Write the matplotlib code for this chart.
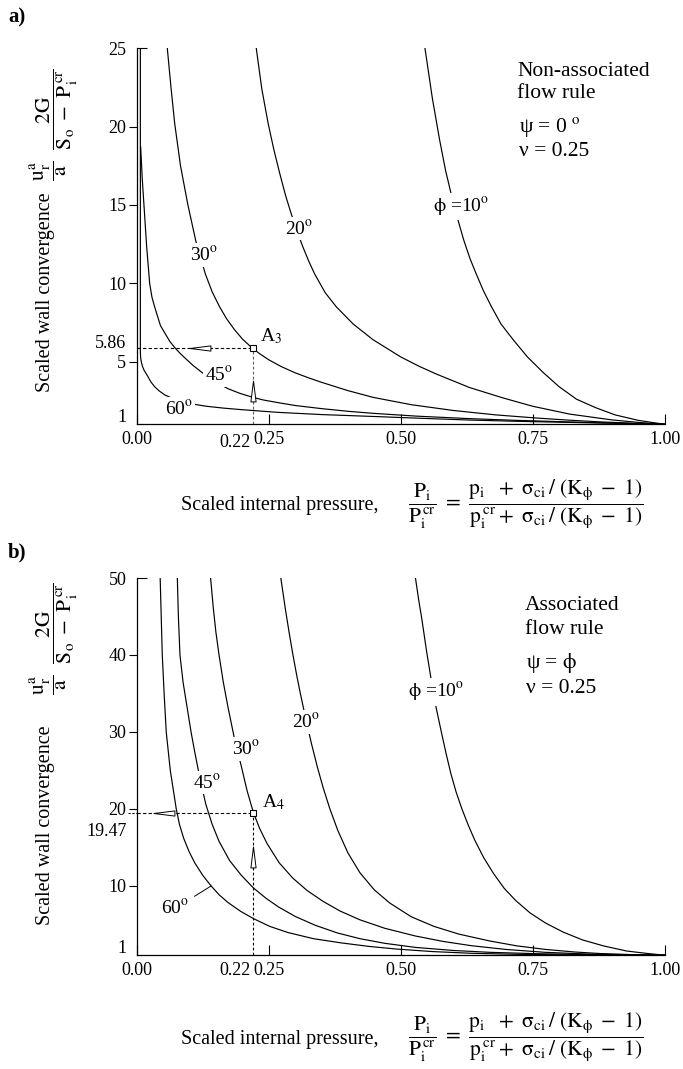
import numpy as np
import matplotlib.pyplot as plt
from matplotlib.path import Path

plt.rcParams['font.family'] = ['Liberation Serif', 'DejaVu Serif']
plt.rcParams['mathtext.fontset'] = 'stix'

# ---------------- panel a) non-associated flow rule (psi = 0), nu = 0.25
a_phi10_x = [0.546, 0.560, 0.574, 0.585, 0.597, 0.608, 0.619, 0.631, 0.643, 0.657, 0.672, 0.690, 0.713,
             0.740, 0.770, 0.800, 0.833, 0.870, 0.906, 0.950, 1.0]
a_phi10_y = [25.0, 21.8, 19.1, 17.2, 15.5, 14.1, 12.8, 11.6, 10.6, 9.5, 8.5, 7.4, 6.4,
             5.3, 4.3, 3.4, 2.6, 2.05, 1.6, 1.25, 1.0]
a_phi20_x = [0.2265, 0.237, 0.249, 0.260, 0.271, 0.282, 0.293, 0.304, 0.315, 0.326, 0.337, 0.357, 0.378,
             0.410, 0.4475, 0.500, 0.535, 0.568, 0.630, 0.694, 0.750, 0.820, 0.900, 0.950, 1.0]
a_phi20_y = [25.0, 22.4, 20.2, 18.5, 17.0, 15.6, 14.4, 13.3, 12.3, 11.4, 10.6, 9.4, 8.5,
             7.4, 6.4, 5.3, 4.7, 4.2, 3.35, 2.68, 2.15, 1.65, 1.28, 1.12, 1.0]
a_phi30_x = [0.058, 0.065, 0.072, 0.083, 0.097, 0.112, 0.130, 0.143, 0.157, 0.170, 0.185, 0.200, 0.217,
             0.233, 0.250, 0.274, 0.299, 0.325, 0.350, 0.400, 0.4475, 0.520, 0.600, 0.680, 0.757,
             0.820, 0.880, 0.940, 1.0]
a_phi30_y = [25.0, 22.5, 20.2, 17.5, 15.0, 12.7, 10.6, 9.45, 8.5, 7.75, 7.05, 6.45, 5.92,
             5.5, 5.12, 4.68, 4.3, 3.97, 3.68, 3.15, 2.72, 2.25, 1.88, 1.6, 1.4,
             1.26, 1.15, 1.07, 1.0]
a_phi45_x = [0.0076, 0.0105, 0.0138, 0.019, 0.0246, 0.029, 0.034, 0.045, 0.0625, 0.072, 0.083, 0.094,
             0.107, 0.122, 0.140, 0.156, 0.173, 0.195, 0.217, 0.240, 0.268, 0.300, 0.350, 0.400,
             0.4475, 0.530, 0.631, 0.720, 0.820, 0.910, 1.0]
a_phi45_y = [18.7, 16.7, 15.0, 12.3, 10.0, 9.1, 8.5, 7.3, 6.3, 5.9, 5.5, 5.15,
             4.75, 4.35, 3.92, 3.58, 3.27, 2.98, 2.75, 2.55, 2.38, 2.2, 2.0, 1.83,
             1.70, 1.52, 1.36, 1.25, 1.15, 1.07, 1.0]
a_phi60_x = [0.007, 0.007, 0.0075, 0.009, 0.011, 0.014, 0.0214, 0.027, 0.034, 0.043, 0.053, 0.070,
             0.090, 0.110, 0.132, 0.165, 0.200, 0.268, 0.350, 0.4475, 0.540, 0.631, 0.720, 0.820,
             0.910, 1.0]
a_phi60_y = [25.0, 5.6, 5.25, 4.95, 4.7, 4.45, 4.04, 3.7, 3.4, 3.12, 2.88, 2.62,
             2.42, 2.27, 2.15, 2.03, 1.93, 1.76, 1.62, 1.5, 1.38, 1.27, 1.19, 1.12,
             1.06, 1.0]
a_point = (0.22, 5.86)

# ---------------- panel b) associated flow rule (psi = phi), nu = 0.25
b_phi10_x = [0.528, 0.534, 0.540, 0.549, 0.558, 0.567, 0.577, 0.586, 0.595, 0.605, 0.616, 0.628, 0.640,
             0.657, 0.676, 0.696, 0.718, 0.745, 0.774, 0.808, 0.844, 0.885, 0.928, 0.965, 1.0]
b_phi10_y = [50.0, 47.2, 44.7, 40.5, 36.7, 33.2, 30.0, 27.2, 24.6, 22.2, 20.0, 17.9, 16.0,
             13.7, 11.6, 9.7, 8.1, 6.5, 5.2, 4.0, 3.0, 2.2, 1.55, 1.25, 1.0]
b_phi20_x = [0.273, 0.282, 0.289, 0.296, 0.303, 0.310, 0.320, 0.331, 0.342, 0.353, 0.366, 0.381, 0.400,
             0.423, 0.450, 0.479, 0.520, 0.563, 0.610, 0.669, 0.720, 0.774, 0.830, 0.879, 0.940, 1.0]
b_phi20_y = [50.0, 45.8, 42.8, 40.0, 37.4, 35.0, 31.8, 28.5, 25.5, 22.8, 20.0, 17.2, 14.3,
             11.7, 9.5, 7.8, 6.0, 4.75, 3.75, 2.85, 2.22, 1.76, 1.42, 1.22, 1.08, 1.0]
b_phi30_x = [0.140, 0.145, 0.150, 0.156, 0.164, 0.173, 0.185, 0.198, 0.209, 0.221, 0.233, 0.247, 0.270,
             0.296, 0.323, 0.353, 0.385, 0.423, 0.470, 0.528, 0.580, 0.633, 0.700, 0.774, 0.850, 0.920, 1.0]
b_phi30_y = [50.0, 46.2, 43.0, 40.0, 36.5, 33.2, 29.2, 25.6, 22.4, 19.55, 17.45, 15.5, 13.0,
             11.0, 9.4, 8.0, 6.75, 5.6, 4.5, 3.5, 2.8, 2.25, 1.75, 1.38, 1.17, 1.06, 1.0]
b_phi45_x = [0.077, 0.079, 0.082, 0.088, 0.096, 0.103, 0.110, 0.120, 0.131, 0.143, 0.156, 0.176, 0.198,
             0.221, 0.245, 0.268, 0.300, 0.338, 0.380, 0.423, 0.470, 0.528, 0.600, 0.669, 0.760, 0.860, 1.0]
b_phi45_y = [50.0, 45.0, 40.0, 36.4, 33.0, 30.0, 27.4, 23.9, 20.6, 18.0, 15.8, 13.3, 11.4,
             9.75, 8.4, 7.3, 6.05, 4.9, 3.9, 3.15, 2.55, 2.02, 1.62, 1.38, 1.2, 1.08, 1.0]
b_phi60_x = [0.0445, 0.0465, 0.0485, 0.052, 0.056, 0.0637, 0.075, 0.081, 0.089, 0.099, 0.110, 0.125,
             0.141, 0.157, 0.173, 0.197, 0.2215, 0.252, 0.2866, 0.335, 0.388, 0.440, 0.493, 0.560,
             0.633, 0.720, 0.820, 1.0]
b_phi60_y = [50.0, 45.0, 40.0, 35.0, 30.0, 25.0, 20.0, 18.0, 16.2, 14.5, 13.0, 11.4,
             10.0, 8.8, 7.85, 6.7, 5.75, 4.75, 3.95, 3.15, 2.6, 2.15, 1.8, 1.48,
             1.26, 1.12, 1.05, 1.0]
b_point = (0.22, 19.47)

x_ticks = [0.0, 0.25, 0.5, 0.75, 1.0]
x_ticklabels = ['0.00', '0.25', '0.50', '0.75', '1.00']
a_yticks = [5, 10, 15, 20]
b_yticks = [10, 20, 30, 40]

FS_TICK = 13
FS_LAB = 14.5
FS_MATH = 15.5
FS_CURVE = 14
FS_NOTE = 15.5
LW = 0.85


def deg(s):
    return s + r'$^{\mathrm{o}}$'


PHI = r'$\mathrm{\phi}$'


def arrow_marker(direction):
    if direction == 'left':
        verts = [(-1, 0), (1, 0.25), (1, -0.25), (-1, 0)]
    else:
        verts = [(0, 1), (0.25, -1), (-0.25, -1), (0, 1)]
    return Path(verts, [Path.MOVETO, Path.LINETO, Path.LINETO, Path.CLOSEPOLY])


def setup_axes(ax, ylim, yticks):
    ax.set_xlim(0, 1)
    ax.set_ylim(*ylim)
    for s in ['top', 'right']:
        ax.spines[s].set_visible(False)
    for s in ['left', 'bottom']:
        ax.spines[s].set_linewidth(0.9)
    ax.set_xticks(x_ticks, labels=x_ticklabels)
    ax.tick_params(axis='x', direction='in', length=7.5, width=0.8, pad=5, labelsize=FS_TICK)
    ax.set_yticks(yticks, labels=[str(v) for v in yticks])
    # top tick points inwards; the bottom "1" label sits a little above the axis line
    ax.set_yticks([ylim[1]], labels=[str(ylim[1])], minor=True)
    ax.tick_params(axis='y', which='major', direction='out', length=6, width=0.8, pad=1.5,
                   labelsize=FS_TICK)
    ax.tick_params(axis='y', which='minor', direction='in', length=7, width=0.8, pad=7.5,
                   labelsize=FS_TICK)
    ax.annotate(str(ylim[0]), xy=(0, ylim[0]), xytext=(-7.3, 5), textcoords='offset points',
                ha='right', va='center', fontsize=FS_TICK)


def curve_label(ax, x, y, s, **kw):
    ax.text(x, y, s, ha='center', va='center', fontsize=FS_CURVE,
            bbox=dict(facecolor='white', edgecolor='none', pad=1.5), zorder=4, **kw)


def reading(ax, pt, name, left_arrow_x, up_arrow_y, vcolor, lab_x, lab_y):
    px, py = pt
    ax.plot([0, px], [py, py], color='black', lw=0.8, ls=(0, (3, 2)), zorder=3)
    ax.plot([px, px], [ax.get_ylim()[0], py], color=vcolor, lw=0.8, ls=(0, (2.5, 2)), zorder=3)
    ax.plot([px], [py], marker='s', ms=5, mfc='white', mec='black', mew=0.8, zorder=6)
    ax.plot([left_arrow_x], [py], marker=arrow_marker('left'), ms=15, mfc='white', mec='black',
            mew=0.7, zorder=6)
    ax.plot([px], [up_arrow_y], marker=arrow_marker('up'), ms=15, mfc='white', mec='black',
            mew=0.7, zorder=6)
    ax.text(lab_x, lab_y, name, ha='left', va='bottom', fontsize=FS_CURVE)


fig = plt.figure(figsize=(6.83, 10.69), dpi=100)
ax_a = fig.add_axes([0.2001, 0.6031, 0.7731, 0.3518])
ax_b = fig.add_axes([0.2001, 0.1064, 0.7731, 0.3529])

# ---- panel a
setup_axes(ax_a, (1, 25), a_yticks)
for xs, ys in [(a_phi10_x, a_phi10_y), (a_phi20_x, a_phi20_y), (a_phi30_x, a_phi30_y),
               (a_phi45_x, a_phi45_y), (a_phi60_x, a_phi60_y)]:
    ax_a.plot(xs, ys, color='black', lw=LW, zorder=2)
curve_label(ax_a, 0.615, 14.9, PHI + ' =' + deg('10'))
curve_label(ax_a, 0.307, 13.5, deg('20'))
curve_label(ax_a, 0.128, 11.8, deg('30'))
curve_label(ax_a, 0.157, 4.15, deg('45'))
curve_label(ax_a, 0.080, 1.98, deg('60'))
reading(ax_a, a_point, r'A$_3$', 0.119, 3.1, '0.35', 0.233, 6.0)
ax_a.annotate('5.86', xy=(0, a_point[1]), xytext=(-7.3, 3.5), textcoords='offset points',
              ha='right', va='center', fontsize=FS_TICK)
ax_a.annotate('0.22', xy=(a_point[0], 0), xycoords=('data', 'axes fraction'), xytext=(-1.5, -7),
              textcoords='offset points', ha='right', va='top', fontsize=FS_TICK)
ax_a.text(0.721, 23.5, 'Non-associated', ha='left', va='center', fontsize=FS_NOTE)
ax_a.text(0.721, 22.1, 'flow rule', ha='left', va='center', fontsize=FS_NOTE)
ax_a.text(0.725, 20.0, 'ψ = 0 ' + r'$^{\mathrm{o}}$', ha='left', va='center', fontsize=FS_NOTE)
ax_a.text(0.725, 18.4, 'ν = 0.25', ha='left', va='center', fontsize=FS_NOTE)

# ---- panel b
setup_axes(ax_b, (1, 50), b_yticks)
for xs, ys in [(b_phi10_x, b_phi10_y), (b_phi20_x, b_phi20_y), (b_phi30_x, b_phi30_y),
               (b_phi45_x, b_phi45_y), (b_phi60_x, b_phi60_y)]:
    ax_b.plot(xs, ys, color='black', lw=LW, zorder=2)
curve_label(ax_b, 0.567, 35.2, PHI + ' =' + deg('10'))
curve_label(ax_b, 0.320, 31.3, deg('20'))
curve_label(ax_b, 0.207, 27.8, deg('30'))
curve_label(ax_b, 0.133, 23.4, deg('45'))
ax_b.annotate(deg('60'), xy=(0.141, 10.0), xytext=(0.073, 7.1), ha='center', va='center',
              fontsize=FS_CURVE, arrowprops=dict(arrowstyle='-', lw=0.7, shrinkA=2, shrinkB=0))
reading(ax_b, b_point, r'A$_4$', 0.0515, 13.8, 'black', 0.238, 19.6)
ax_b.plot([-0.017, 0], [b_point[1], b_point[1]], color='black', lw=0.8, ls=(0, (2, 1.5)), clip_on=False)
ax_b.annotate('19.47', xy=(0, b_point[1]), xytext=(-7.3, -13), textcoords='offset points',
              ha='right', va='center', fontsize=FS_TICK)
ax_b.annotate('0.22', xy=(b_point[0], 0), xycoords=('data', 'axes fraction'), xytext=(-1.5, -5),
              textcoords='offset points', ha='right', va='top', fontsize=FS_TICK)
ax_b.text(0.735, 46.4, 'Associated', ha='left', va='center', fontsize=FS_NOTE)
ax_b.text(0.735, 43.3, 'flow rule', ha='left', va='center', fontsize=FS_NOTE)
ax_b.text(0.737, 38.9, 'ψ = ' + PHI, ha='left', va='center', fontsize=FS_NOTE)
ax_b.text(0.737, 35.7, 'ν = 0.25', ha='left', va='center', fontsize=FS_NOTE)

# ---- axis titles
ylab_frac = (r'$\dfrac{\mathrm{u_r^a}}{\mathrm{a}}\ \ '
             r'\dfrac{\mathrm{2G}}{\mathrm{S_o\ -\ P_i^{\,cr}}}$')
xlab_math = (r'$\dfrac{\mathrm{P_i}}{\mathrm{P_i^{\,cr}}}\ =\ '
             r'\dfrac{\mathrm{p_i\ \ +\ \sigma_{ci}\,/\ (K_{\phi}\ -\ 1)}}'
             r'{\mathrm{p_i^{\,cr}+\ \sigma_{ci}\,/\ (K_{\phi}\ -\ 1)}}$')
for yc_lab, yc_frac, yc_x, tag, ytag in [(0.727, 0.883, 0.529, 'a)', 0.984),
                                         (0.228, 0.403, 0.030, 'b)', 0.483)]:
    fig.text(0.066, yc_lab, 'Scaled wall convergence', rotation=90, ha='center', va='center',
             fontsize=FS_LAB)
    fig.text(0.079, yc_frac, ylab_frac, rotation=90, ha='center', va='center', fontsize=FS_MATH)
    fig.text(0.265, yc_x - 0.002, 'Scaled internal pressure,', ha='left', va='center', fontsize=FS_LAB)
    fig.text(0.598, yc_x, xlab_math, ha='left', va='center', fontsize=FS_MATH)
    fig.text(0.012, ytag, tag, ha='left', va='center', fontsize=15, fontweight='bold')

fig.savefig('out.png', dpi=100)
